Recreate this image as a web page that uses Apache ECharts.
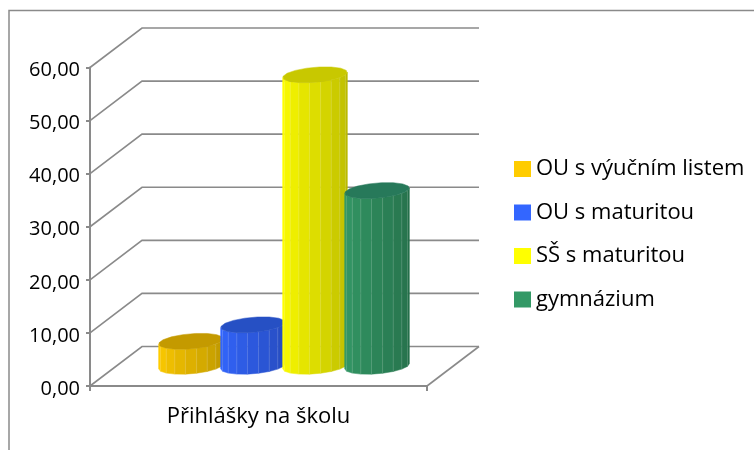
<!DOCTYPE html>
<html><head><meta charset="utf-8">
<style>html,body{margin:0;padding:0;background:#fff}#c{width:754px;height:450px}</style>
<script src="https://cdn.jsdelivr.net/npm/echarts@6/dist/echarts.min.js"></script></head>
<body><div id="c"></div>
<script>
const categories = ['Přihlášky na školu'];
const seriesNames = ['OU s výučním listem', 'OU s maturitou', 'SŠ s maturitou', 'gymnázium'];
const orangeValues = [4.7];
const blueValues = [7.8];
const yellowValues = [54.9];
const greenValues = [33.1];
const yTicks = [0, 10, 20, 30, 40, 50, 60];

const seriesValues = [orangeValues, blueValues, yellowValues, greenValues];
const bodyColors = [[255,204,0],[51,102,255],[255,255,0],[51,153,102]];
const topColors = ['#c49a00','#2650c4','#c8c800','#27795a'];
const axisColor = '#8a8a8a';
const FONT = '"Open Sans"';
const depthX = 52, depthY = 39.5;

const chart = echarts.init(document.getElementById('c'), null, {renderer:'canvas'});

function wallItem(params, api) {
  const v = api.value(1);
  const cs = params.coordSys;
  const y = api.coord([0, v])[1];
  const x0 = cs.x, x1 = cs.x + cs.width;
  const st = {stroke: axisColor, lineWidth: 1.6, fill: null};
  const children = [
    {type:'polyline', shape:{points:[[x0,y],[x0+depthX,y-depthY],[x1+depthX,y-depthY]]}, style:st, silent:true}
  ];
  if (v === 0) children.push({type:'line', shape:{x1:x1,y1:y,x2:x1+depthX,y2:y-depthY}, style:st, silent:true});
  return {type:'group', children};
}

function cylinderItem(i) {
  return function (params, api) {
    const band = api.size([1, 0])[0];
    const mid = api.coord([0, 0]);
    const topPt = api.coord([0, api.value(1)]);
    const cx = mid[0] + depthX / 2 + (i - 1.5) * band * 0.184 - 0.5;
    const cyBase = mid[1] - depthY / 2;
    const cyTop = topPt[1] - depthY / 2;
    const R = band * 0.096;
    const c = 8, b = c * depthX / depthY, a = Math.sqrt(Math.max(R * R - b * b, 1));
    const P = (t, cy) => [cx + a * Math.cos(t) + b * Math.sin(t), cy - c * Math.sin(t)];
    const t0 = Math.atan2(b, a);
    const N = 9;
    const col = bodyColors[i];
    const children = [];
    for (let k = 0; k < N; k++) {
      const ta = t0 - Math.PI + Math.PI * k / N;
      const tb = t0 - Math.PI + Math.PI * (k + 1) / N;
      const f = 1 - 0.27 * (k / (N - 1));
      const fill = `rgb(${col.map(x => Math.round(x * f)).join(',')})`;
      children.push({type:'polygon', silent:true,
        shape:{points:[P(ta,cyTop),P(tb,cyTop),P(tb,cyBase),P(ta,cyBase)]},
        style:{fill, stroke:fill, lineWidth:0.5}});
      if (k > 0) {
        const p = P(ta, cyTop), q = P(ta, cyBase);
        children.push({type:'line', silent:true,
          shape:{x1:p[0],y1:p[1],x2:q[0],y2:q[1]},
          style:{stroke:'rgba(255,255,255,0.14)', lineWidth:1}});
      }
    }
    const ring = [];
    for (let k = 0; k < 16; k++) ring.push(P(2 * Math.PI * (k + 0.5) / 16, cyTop));
    children.push({type:'polygon', silent:true, shape:{points:ring},
      style:{fill:topColors[i], stroke:topColors[i], lineWidth:0.5}});
    return {type:'group', children};
  };
}

const cylinders = seriesNames.map((name, i) => ({
  name, type:'custom', coordinateSystem:'cartesian2d', clip:false, z:3 + i,
  itemStyle:{color:`rgb(${bodyColors[i].join(',')})`},
  renderItem: cylinderItem(i),
  encode:{x:0, y:1},
  data: seriesValues[i].map((v, k) => [k, v])
}));

chart.setOption({
  animation:false,
  backgroundColor:'#fff',
  textStyle:{fontFamily:FONT},
  graphic:[{type:'rect', silent:true, z:0,
    shape:{x:9,y:10.5,width:800,height:500},
    style:{fill:null, stroke:axisColor, lineWidth:1.5}}],
  legend:{
    orient:'vertical', left:509, top:153, itemWidth:17, itemHeight:16, itemGap:21.5, icon:'rect',
    selectedMode:false,
    textStyle:{fontFamily:FONT, fontSize:22, color:'#000'},
    data: seriesNames
  },
  grid:{left:90, top:67.5, width:337, height:318.5, containLabel:false},
  xAxis:{type:'category', data:categories, boundaryGap:true,
    axisLine:{lineStyle:{color:axisColor,width:2}},
    axisTick:{show:true,alignWithLabel:false,length:5,lineStyle:{color:axisColor,width:2}},
    axisLabel:{fontFamily:FONT,fontSize:22,color:'#000',margin:20},
    splitLine:{show:false}},
  yAxis:{type:'value', min:0, max:60, interval:10,
    axisLine:{show:true,lineStyle:{color:axisColor,width:2}},
    axisTick:{show:true,length:4,lineStyle:{color:axisColor,width:2}},
    axisLabel:{fontFamily:FONT,fontSize:20,color:'#000',margin:10,
      formatter:v => '{n|' + v.toFixed(2).replace('.', ',') + '}',
      rich:{n:{fontFamily:FONT,fontSize:20,color:'#000',padding:[6,0,0,0]}}},
    splitLine:{show:false}},
  series:[
    {type:'custom', coordinateSystem:'cartesian2d', clip:false, z:1, silent:true,
      renderItem: wallItem, encode:{x:0,y:1},
      data: yTicks.map(v => [0, v])},
    ...cylinders
  ]
});
</script></body></html>
